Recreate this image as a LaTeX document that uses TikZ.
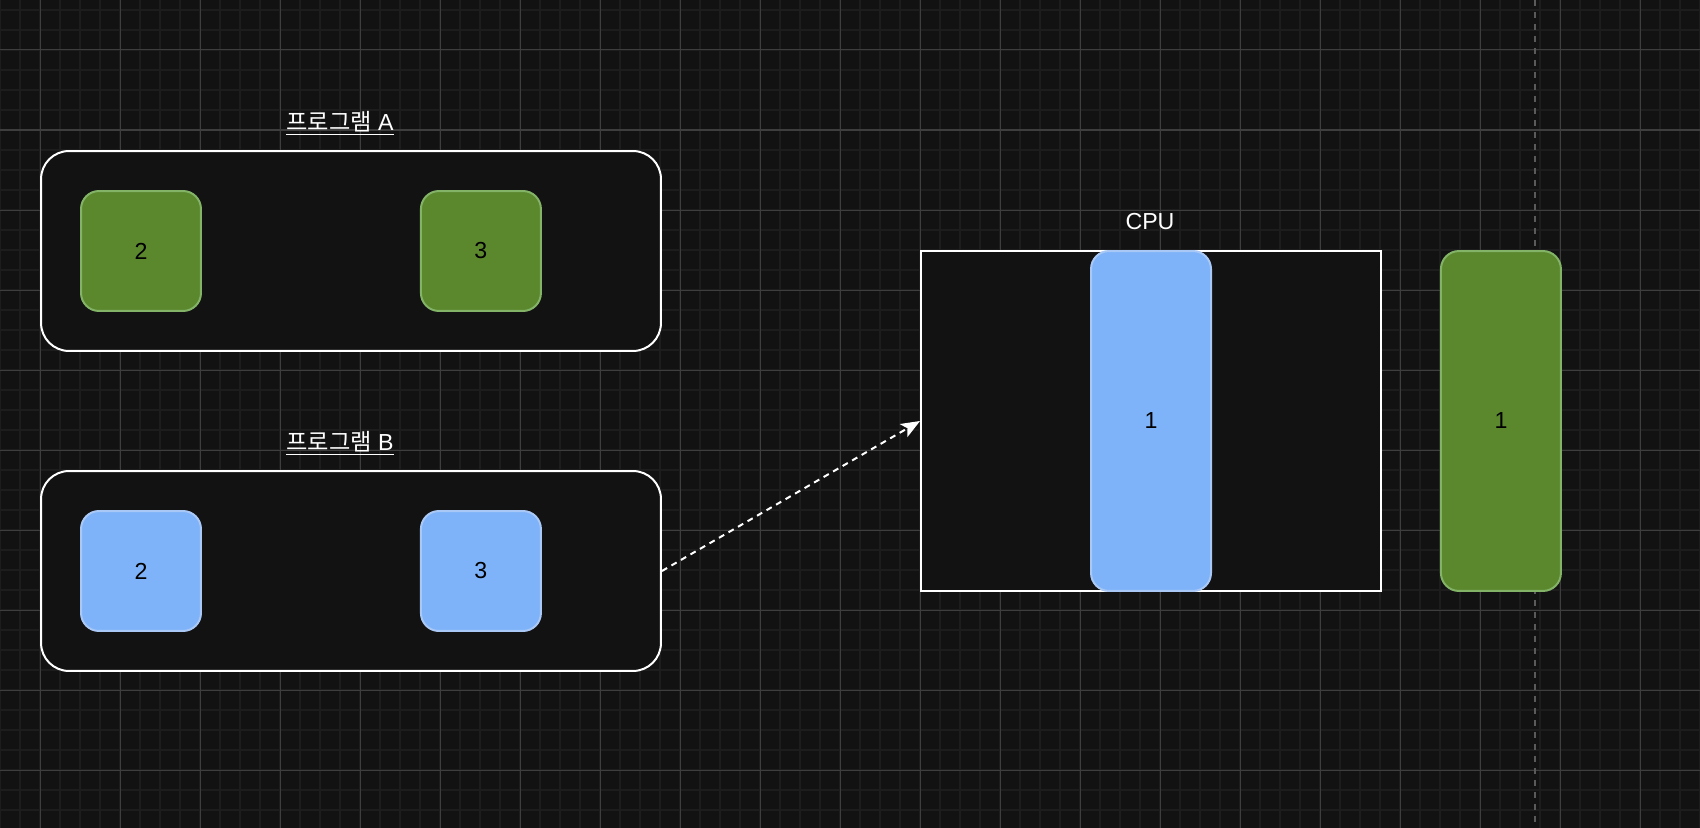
\documentclass[tikz,border=0pt]{standalone}
\usepackage{fontspec}
\setmainfont{Liberation Sans}
\newfontfamily\krfont{Noto Sans CJK KR}
\usepackage{xcolor}
\usetikzlibrary{positioning, arrows.meta}

\definecolor{canvas}{HTML}{121212}
\definecolor{gridminor}{HTML}{1D1D1D}
\definecolor{gridmajor}{HTML}{3E3E3E}
\definecolor{guide}{HTML}{5A5A5A}
\definecolor{greenfill}{HTML}{5B872D}
\definecolor{greenline}{HTML}{82B366}
\definecolor{bluefill}{HTML}{7EB3FA}
\definecolor{blueline}{HTML}{A9C8F5}

\begin{document}
\begin{tikzpicture}[
    x=0.02cm, y=-0.02cm,
    node distance=4.36cm,
    every node/.style={font=\fontsize{13.2}{16}\selectfont},
    prog/.style={rectangle, rounded corners=0.56cm, draw=white, line width=0.04cm, fill=canvas, minimum width=12.4cm, minimum height=4cm},
    task/.style={rectangle, rounded corners=0.36cm, line width=0.04cm, minimum width=2.4cm, minimum height=2.4cm, text=black},
    greentask/.style={task, fill=greenfill, draw=greenline},
    bluetask/.style={task, fill=bluefill, draw=blueline},
    heading/.style={text=white, inner sep=0pt}
]

% canvas and grid
\useasboundingbox (0,0) rectangle (1700,828);
\fill[canvas] (0,0) rectangle (1700,828);
\foreach \gx in {0,20,...,1700} \draw[gridminor, line width=0.04cm] (\gx,0) -- (\gx,828);
\foreach \gy in {10,30,...,830} \draw[gridminor, line width=0.04cm] (0,\gy) -- (1700,\gy);
\foreach \gx in {40,120,...,1640} \draw[gridmajor, line width=0.02cm] (\gx,0) -- (\gx,828);
\foreach \gy in {50,130,...,770} \draw[gridmajor, line width=0.02cm] (0,\gy) -- (1700,\gy);
\draw[guide, line width=0.04cm, dash pattern=on 0.12cm off 0.12cm] (1535,0) -- (1535,828);

% program A
\node[heading] (titleA) at (340,123) {\underline{{\krfont 프로그램} A}};
\node[prog] (progA) at (351,251) {};
\node[greentask] (a2) at (141,251) {2};
\node[greentask, right=of a2] (a3) {3};

% program B
\node[heading] (titleB) at (340,443) {\underline{{\krfont 프로그램} B}};
\node[prog] (progB) at (351,571) {};
\node[bluetask] (b2) at (141,571) {2};
\node[bluetask, right=of b2] (b3) {3};

% CPU
\node[heading] (titleCPU) at (1150,222) {CPU};
\node[rectangle, draw=white, line width=0.04cm, fill=canvas, minimum width=9.2cm, minimum height=6.8cm] (cpu) at (1151,421) {};
\node[bluetask, minimum height=6.8cm] (run) at (1151,421) {1};
\node[greentask, minimum height=6.8cm, right=1.16cm of cpu] (wait) {1};

% Arrows
\draw[white, line width=0.04cm, dash pattern=on 0.12cm off 0.1cm, -{Stealth[length=0.38cm, width=0.3cm, inset=0.09cm]}] (progB.east) -- (cpu.west);

\end{tikzpicture}
\end{document}
